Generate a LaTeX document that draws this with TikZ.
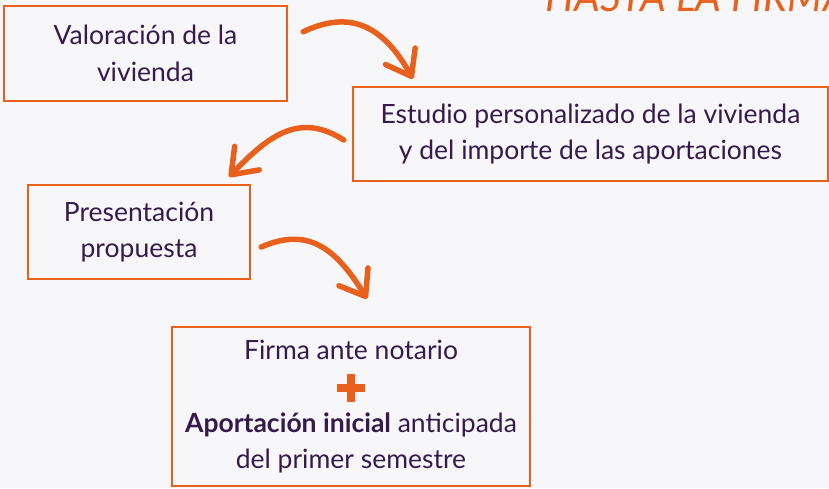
\documentclass[tikz,border=0pt]{standalone}
\usepackage{fontspec}
\setmainfont{Lato}
\usetikzlibrary{arrows.meta,calc}
\definecolor{naranja}{HTML}{E8601C}
\definecolor{morado}{HTML}{361A4E}
\definecolor{fondo}{HTML}{F7F7F9}
\newcommand{\cruz}{\textcolor{naranja}{\makebox[28pt][l]{\rlap{\rule[4pt]{28pt}{8pt}}\hspace{10pt}\rule[-6pt]{8pt}{28pt}}}}

\begin{document}
\begin{tikzpicture}[x=1pt,y=1pt,
  caja/.style={draw=naranja,line width=2.4pt,text=morado,align=center,
    font=\fontsize{26.5}{36.5}\selectfont,inner sep=0pt},
  flecha/.style={draw=naranja,line width=5.5pt,line cap=round,
    -{Straight Barb[length=23pt,width=34pt,round]}}]
% fondo y marco
\fill[fondo] (0,0) rectangle (829,488);
\useasboundingbox (0,0) rectangle (829,488);
% titulo cortado arriba
\node[text=naranja,font=\fontsize{41}{41}\selectfont\itshape,anchor=base west,inner sep=0pt]
  (titulo) at (545,476) {HASTA LA FIRMA};
% pasos
\node[caja,minimum width=283,minimum height=95] (val) at (145.5,434.5)
  {Valoración de la\\vivienda};
\node[caja,minimum width=475,minimum height=94] (est) at (590.5,354)
  {Estudio personalizado de la vivienda\\y del importe de las aportaciones};
\node[caja,minimum width=222,minimum height=94] (pres) at (139,256)
  {Presentación\\propuesta};
\node[caja,minimum width=358,minimum height=159] (firma) at (351,81.5)
  {Firma ante notario\\\cruz\\\textbf{Aportación inicial} anticipada\\del primer semestre};
% flechas
\coordinate (f1a) at ([shift={(15,-27)}]val.north east);
\coordinate (f1b) at ([shift={(61,7)}]est.north west);
\draw[flecha] (f1a) .. controls +(46,22) and +(-30,54) .. (f1b);
\coordinate (f2a) at ([shift={(-8,-6)}]est.west);
\coordinate (f2b) at ([shift={(-22,7)}]pres.north east);
\draw[flecha] (f2a) .. controls +(-44,28) and +(40,42) .. (f2b);
\coordinate (f3a) at ([shift={(10,-15)}]pres.east);
\coordinate (f3b) at ([shift={(16,27)}]firma.north);
\draw[flecha] (f3a) .. controls +(46,20) and +(-32,52) .. (f3b);
\end{tikzpicture}
\end{document}
